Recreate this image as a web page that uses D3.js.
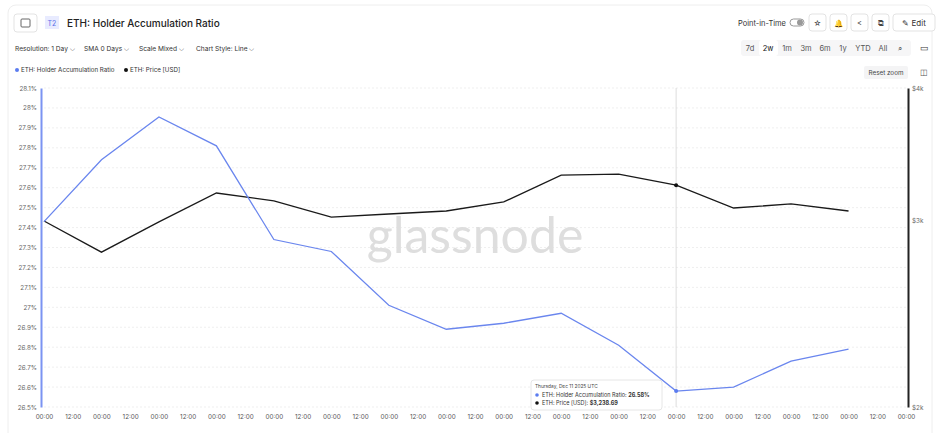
<!DOCTYPE html>
<html><head><meta charset="utf-8">
<script src="https://cdn.jsdelivr.net/npm/d3@7"></script>
<style>body{margin:0;background:#fff;font-family:Inter,"Noto Sans",sans-serif}svg text{font-family:Inter,sans-serif}</style>
</head><body><svg id="c" width="940" height="433"></svg>
<script>
const dates = d3.range(16).map(i => new Date(Date.UTC(2025,10,30+i)));
const ratio = [27.43,27.74,27.955,27.81,27.34,27.28,27.01,26.89,26.92,26.97,26.81,26.58,26.60,26.73,26.79];
const price = [2996,2800,2990,3184,3130,3022,3042,3062,3123,3310,3317,3238.69,3082,3109,3062];
const leftTicks = [26.5,26.6,26.7,26.8,26.9,27,27.1,27.2,27.3,27.4,27.5,27.6,27.7,27.8,27.9,28,28.1];
const rightTicks = [2000,3000,4000];
const hoverIdx = 11;

const svg = d3.select("#c");
const x = d3.scaleUtc().domain([dates[0], dates[15]]).range([44, 906]);
const yL = d3.scaleLinear().domain([26.5,28.1]).range([407,88]);
const yR = d3.scaleLog().domain([2000,4000]).range([407,88]);

svg.append("rect").attr("x",8).attr("y",5).attr("width",924).attr("height",440).attr("rx",8).attr("fill","none").attr("stroke","#eee");
const g0 = svg.append("g").attr("fill","#222");
g0.append("rect").attr("x",14).attr("y",14).attr("width",23).attr("height",18).attr("rx",3).attr("fill","#fff").attr("stroke","#e3e3e3");
g0.append("rect").attr("x",21).attr("y",19).attr("width",9).attr("height",8).attr("rx",1).attr("fill","none").attr("stroke","#666");
g0.append("rect").attr("x",45).attr("y",16).attr("width",14).attr("height",13).attr("fill","#e8ebff");
g0.append("text").attr("x",52).attr("y",25.5).attr("text-anchor","middle").attr("font-size",7).attr("fill","#5a6ee8").text("T2");
g0.append("text").attr("x",67).attr("y",26.5).attr("font-size",10).attr("font-weight",500).text("ETH: Holder Accumulation Ratio");
[["Resolution: 1 Day",15],["SMA 0 Days",84],["Scale Mixed",139],["Chart Style: Line",196]].forEach(([t,xx])=>{
  g0.append("text").attr("x",xx).attr("y",51).attr("font-size",6.6).attr("fill","#333").text(t+" ⌵");
});
g0.append("circle").attr("cx",17).attr("cy",70).attr("r",2).attr("fill","#5b7cf0");
g0.append("text").attr("x",21).attr("y",72.3).attr("font-size",6.2).attr("fill","#333").text("ETH: Holder Accumulation Ratio");
g0.append("circle").attr("cx",126).attr("cy",70).attr("r",2).attr("fill","#111");
g0.append("text").attr("x",130).attr("y",72.3).attr("font-size",6.2).attr("fill","#333").text("ETH: Price [USD]");
g0.append("text").attr("x",738).attr("y",25.5).attr("font-size",7.5).attr("fill","#333").text("Point-in-Time");
g0.append("rect").attr("x",790).attr("y",19).attr("width",14).attr("height",7).attr("rx",3.5).attr("fill","#fff").attr("stroke","#999");
g0.append("circle").attr("cx",800).attr("cy",22.5).attr("r",3).attr("fill","#999");
["☆","🔔","<","⧉"].forEach((s,i)=>{
  g0.append("rect").attr("x",809+i*21).attr("y",14).attr("width",17).attr("height",17).attr("rx",3).attr("fill","#fff").attr("stroke","#e3e3e3");
  g0.append("text").attr("x",817.5+i*21).attr("y",25.5).attr("text-anchor","middle").attr("font-size",7.5).attr("fill","#444").text(s);
});
g0.append("rect").attr("x",893).attr("y",14).attr("width",42).attr("height",17).attr("rx",3).attr("fill","#fff").attr("stroke","#e3e3e3");
g0.append("text").attr("x",914).attr("y",25.5).attr("text-anchor","middle").attr("font-size",8).attr("fill","#333").text("✎ Edit");
g0.append("rect").attr("x",741).attr("y",40).attr("width",170).attr("height",16).attr("rx",3).attr("fill","#f6f6f7");
g0.append("rect").attr("x",759).attr("y",40).attr("width",19).attr("height",16).attr("rx",3).attr("fill","#fff");
[["7d",750],["2w",768],["1m",787],["3m",806],["6m",825],["1y",843],["YTD",863],["All",883],["⌕",900]].forEach(([t,xx])=>{
  g0.append("text").attr("x",xx).attr("y",51).attr("text-anchor","middle").attr("font-size",7.5).attr("fill",t==="2w"?"#111":"#555").text(t);
});
g0.append("text").attr("x",924).attr("y",51).attr("text-anchor","middle").attr("font-size",9).attr("fill","#333").text("▭");
g0.append("rect").attr("x",864).attr("y",66).attr("width",44).attr("height",13).attr("rx",2).attr("fill","#f4f4f5");
g0.append("text").attr("x",886).attr("y",75).attr("text-anchor","middle").attr("font-size",6.3).attr("fill","#444").text("Reset zoom");
g0.append("text").attr("x",924).attr("y",75).attr("text-anchor","middle").attr("font-size",8).attr("fill","#555").text("◫");

svg.append("g").selectAll("line").data(leftTicks).join("line")
  .attr("x1",44).attr("x2",906).attr("y1",d=>yL(d)).attr("y2",d=>yL(d))
  .attr("stroke","#efefef").attr("stroke-dasharray","2,2");
svg.append("text").attr("x",475).attr("y",253).attr("text-anchor","middle").attr("font-size",50).attr("fill","#dedede").style("font-family","Lato,sans-serif").text("glassnode");
svg.append("line").attr("x1",x(dates[hoverIdx])).attr("x2",x(dates[hoverIdx])).attr("y1",88).attr("y2",407).attr("stroke","#d5d5d5").attr("stroke-width",0.8);

const aL = svg.append("g").attr("transform","translate(41,0)").call(d3.axisLeft(yL).tickValues(leftTicks).tickSize(0).tickPadding(4).tickFormat(d=>d3.format(".3~f")(d)+"%"));
aL.select(".domain").attr("stroke","#7b93f2").attr("stroke-width",2);
aL.selectAll("text").attr("font-size",6.3).attr("fill","#666");
const aR = svg.append("g").attr("transform","translate(908,0)").call(d3.axisRight(yR).tickValues(rightTicks).tickSize(0).tickPadding(4).tickFormat(d=>"$"+d/1000+"k"));
aR.select(".domain").attr("stroke","#222").attr("stroke-width",2);
aR.selectAll("text").attr("font-size",6.3).attr("fill","#666");
const ticksX = d3.range(31).map(i=>new Date(dates[0].getTime()+i*12*3600e3));
const aX = svg.append("g").attr("transform","translate(0,407)").call(d3.axisBottom(x).tickValues(ticksX).tickSize(0).tickPadding(8).tickFormat(d3.utcFormat("%H:%M")));
aX.select(".domain").remove();
aX.selectAll("text").attr("font-size",6.3).attr("fill","#555");

const lineL = d3.line().x((d,i)=>x(dates[i])).y(d=>yL(d));
const lineR = d3.line().x((d,i)=>x(dates[i])).y(d=>yR(d));
svg.append("path").attr("d",lineR(price)).attr("fill","none").attr("stroke","#1a1a1a").attr("stroke-width",1.3);
svg.append("path").attr("d",lineL(ratio)).attr("fill","none").attr("stroke","#6a86ee").attr("stroke-width",1.3);
svg.append("circle").attr("cx",x(dates[hoverIdx])).attr("cy",yR(price[hoverIdx])).attr("r",2).attr("fill","#111");
svg.append("circle").attr("cx",x(dates[hoverIdx])).attr("cy",yL(ratio[hoverIdx])).attr("r",2).attr("fill","#5b7cf0");

const tt = svg.append("g").attr("transform","translate(531,380)");
tt.append("rect").attr("width",131).attr("height",30).attr("rx",3).attr("fill","#fff").attr("stroke","#e6e6e6");
tt.append("text").attr("x",4).attr("y",8).attr("font-size",4.8).attr("fill","#444").text("Thursday, Dec 11 2025 UTC");
tt.append("circle").attr("cx",6).attr("cy",15).attr("r",1.8).attr("fill","#5b7cf0");
tt.append("circle").attr("cx",6).attr("cy",23).attr("r",1.8).attr("fill","#111");
const t1=tt.append("text").attr("x",11).attr("y",17).attr("font-size",5.5).attr("fill","#333");
t1.append("tspan").text("ETH: Holder Accumulation Ratio: ");
t1.append("tspan").attr("font-weight",700).text(ratio[hoverIdx].toFixed(2)+"%");
const t2=tt.append("text").attr("x",11).attr("y",25).attr("font-size",5.5).attr("fill","#333");
t2.append("tspan").text("ETH: Price [USD]: ");
t2.append("tspan").attr("font-weight",700).text("$"+d3.format(",.2f")(price[hoverIdx]));
</script></body></html>
